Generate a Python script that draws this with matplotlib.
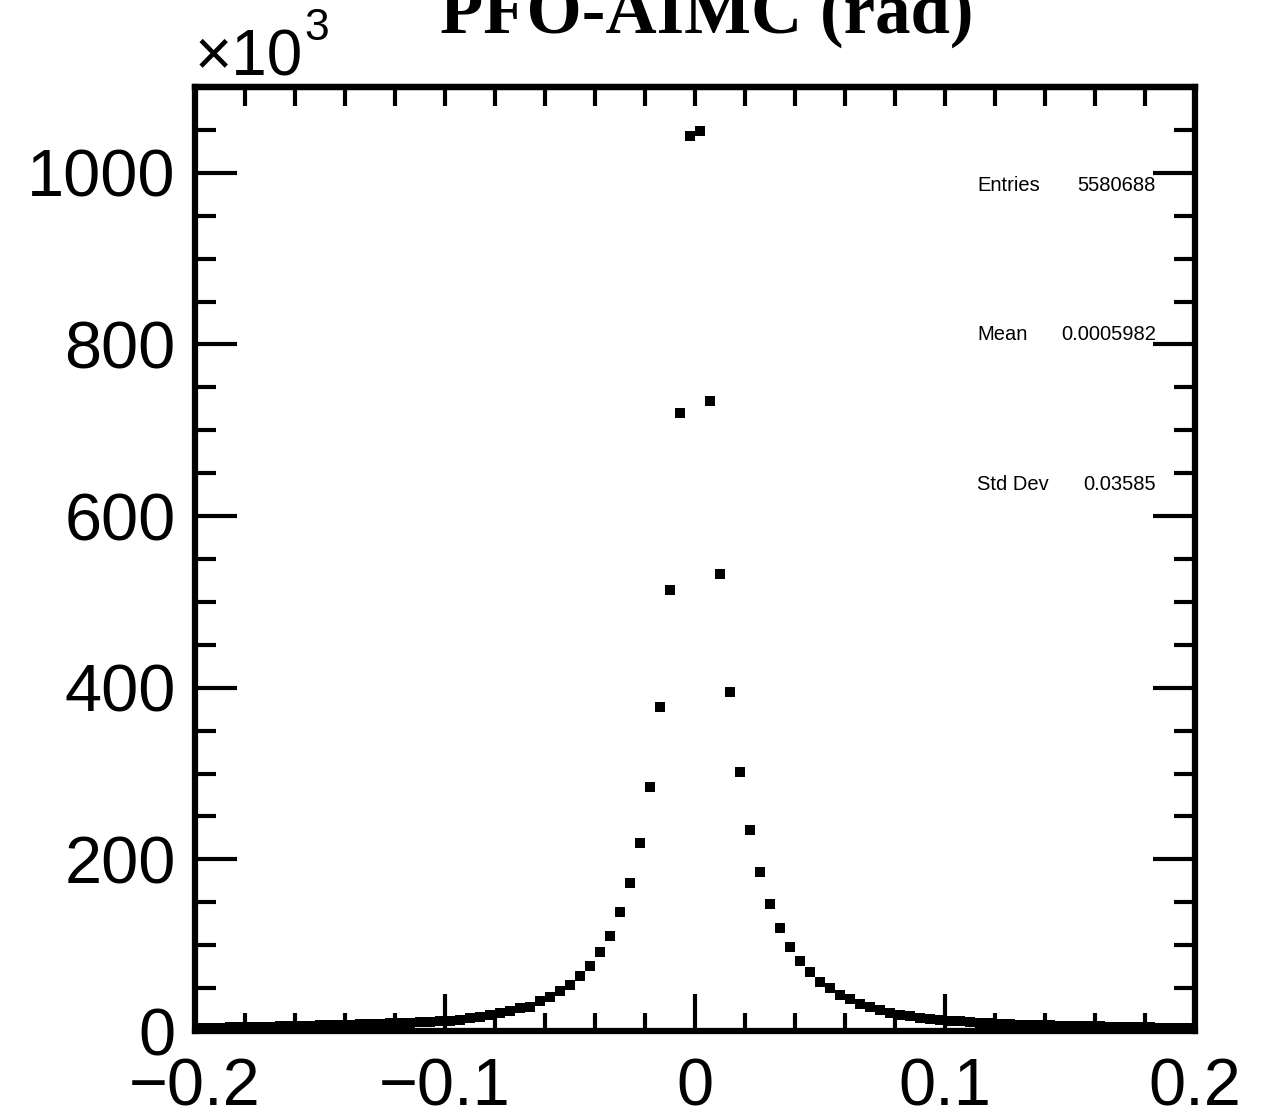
import numpy as np
import matplotlib
matplotlib.use("Agg")
import matplotlib.pyplot as plt
from matplotlib.ticker import MultipleLocator, NullFormatter

# ---- data (counts in units of 10^3), 100 bins from -0.2 to 0.2 ----
bin_lo = -0.2
bin_hi = 0.2
n_bins = 100
counts = [
    3.6, 3.8, 4.0, 4.2, 4.4, 4.6, 4.8, 5.0, 5.3, 5.6,
    5.9, 6.2, 6.5, 6.8, 7.1, 7.4, 7.8, 8.2, 8.6, 9.0,
    9.4, 9.8, 10.3, 10.8, 11.3,
    11.8, 12.8, 14.8, 16.0, 18.3, 20.6, 23.3, 26.4, 28.3, 34.6,
    39.3, 46.6, 53.2, 63.7, 75.4, 91.7, 110.7, 138.3, 172.2, 219.6,
    284.9, 377.5, 513.7, 720.7,
    1042.5, 1048.7,
    734.6, 532.3, 395.2, 302.0, 233.8, 184.9, 147.6, 119.6, 97.8, 81.5,
    68.4, 56.7, 49.7, 41.6, 36.9, 31.8, 27.6, 24.1, 21.3, 19.0,
    17.1, 15.5, 14.0,
    12.4, 12.0, 11.5, 10.5, 9.7, 9.0, 8.5, 8.0, 7.5, 7.2,
    6.8, 6.5, 6.2, 6.0, 5.7, 5.5, 5.3, 5.0, 4.8, 4.6,
    4.4, 4.2, 4.0, 3.8, 3.6, 3.4,
]
title = "PFO-AIMC (rad)"
stats_labels = ["Entries", "Mean", "Std Dev"]
stats_values = ["5580688", "0.0005982", "0.03585"]
xticks = [-0.2, -0.1, 0, 0.1, 0.2]
xticklabels = ["\u22120.2", "\u22120.1", "0", "0.1", "0.2"]
yticks = [0, 200, 400, 600, 800, 1000]

edges = np.linspace(bin_lo, bin_hi, n_bins + 1)
centers = 0.5 * (edges[:-1] + edges[1:])

plt.rcParams['font.family'] = ['Liberation Sans', 'DejaVu Sans']

fig = plt.figure(figsize=(12.75, 11.17), dpi=100)
ax = fig.add_axes([195/1275, 1 - 1031/1117, 1000/1275, 944/1117])

ax.plot(centers, counts, linestyle='none', marker='s', markersize=7.5,
        color='black', markeredgewidth=0)

ax.set_xlim(bin_lo, bin_hi)
ax.set_ylim(0, 1100)

ax.set_xticks(xticks)
ax.set_xticklabels(xticklabels)
ax.set_yticks(yticks)
ax.xaxis.set_minor_locator(MultipleLocator(0.02))
ax.yaxis.set_minor_locator(MultipleLocator(50))

ax.tick_params(which='both', direction='in', top=False, right=True,
               width=3, color='black')
ax.tick_params(axis='x', which='major', length=27, labelsize=48, pad=19)
ax.tick_params(axis='x', which='minor', length=13)
ax.tick_params(axis='y', which='major', length=30, labelsize=48, pad=14)
ax.tick_params(axis='y', which='minor', length=15)
for s in ax.spines.values():
    s.set_linewidth(4.5)
    s.set_color('black')

# top axis: uniform short ticks every 0.02
sec = ax.secondary_xaxis('top')
sec.xaxis.set_major_locator(MultipleLocator(0.02))
sec.xaxis.set_major_formatter(NullFormatter())
sec.tick_params(direction='in', length=14, width=3)
sec.spines['top'].set_linewidth(4.5)

# multiplier
fig.text(195/1275, 1 - 75/1117, "\u00d710", fontsize=46,
         ha='left', va='baseline')
fig.text(304/1275, 1 - 40/1117, "3", fontsize=32,
         ha='left', va='baseline')

# title (partially cut at the top)
fig.text(707/1275, 1 - 33/1117, title, fontsize=51, fontweight='bold',
         family=['Liberation Serif', 'DejaVu Serif'], ha='center', va='baseline')

# stats box text
ys = [185, 334, 485]
for lab, val, y in zip(stats_labels, stats_values, ys):
    fig.text(977/1275, 1 - y/1117, lab, fontsize=14.5, ha='left', va='center')
    fig.text(1156/1275, 1 - y/1117, val, fontsize=14.5, ha='right', va='center')

fig.savefig("out.png", dpi=100)
